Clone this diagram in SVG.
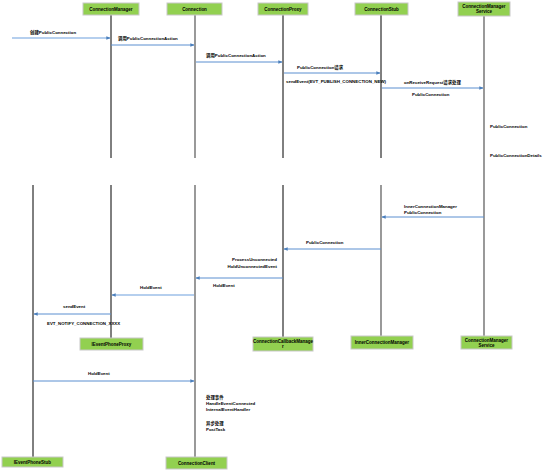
<svg xmlns="http://www.w3.org/2000/svg" width="553" height="474" viewBox="0 0 553 474">
<style>
.box{fill:#92d050;stroke:#c8c8c8;stroke-width:1}
.bt{font-family:"Liberation Sans",Arial,sans-serif;font-size:4.5px;font-weight:bold;fill:#000;text-anchor:middle}
.t{font-family:"Liberation Sans","Noto Sans CJK SC",sans-serif;font-size:4.4px;font-weight:bold;fill:#000}
.lk{stroke:#000;stroke-width:1;fill:none}
.lg{stroke:#808080;stroke-width:1.6;fill:none}
.ar{stroke:#5b8fd0;stroke-width:1;fill:none;marker-end:url(#ah)}
.arl{stroke:#9dbfe8;stroke-width:1.6;fill:none;marker-end:url(#ah)}
</style>
<defs>
<marker id="ah" viewBox="0 0 6 6" refX="5.5" refY="3" markerWidth="4" markerHeight="4" orient="auto" markerUnits="userSpaceOnUse">
<path d="M0,0.5 L6,3 L0,5.5 z" fill="#4a7ebb"/>
</marker>
</defs>
<rect width="553" height="474" fill="#fff"/>
<g id="lifelines">
<line class="lk" x1="111" y1="15" x2="111" y2="158"/>
<line class="lg" x1="195" y1="15" x2="195" y2="158"/>
<line class="lk" x1="283" y1="15" x2="283" y2="158"/>
<line class="lk" x1="381" y1="15" x2="381" y2="158"/>
<line class="lg" x1="484" y1="16" x2="484" y2="337"/>
<line class="lk" x1="33" y1="185" x2="33" y2="457"/>
<line class="lk" x1="111" y1="185" x2="111" y2="338"/>
<line class="lg" x1="195" y1="185" x2="195" y2="457"/>
<line class="lk" x1="283" y1="185" x2="283" y2="338"/>
<line class="lg" x1="381" y1="185" x2="381" y2="336"/>
</g>
<g id="n1"><rect class="box" x="83" y="3" width="56" height="12"/><text class="bt" x="111" y="10.7">ConnectionManager</text></g>
<g id="n2"><rect class="box" x="167" y="3" width="55" height="12"/><text class="bt" x="194.5" y="10.7">Connection</text></g>
<g id="n3"><rect class="box" x="258" y="3" width="50" height="12"/><text class="bt" x="283" y="10.7">ConnectionProxy</text></g>
<g id="n4"><rect class="box" x="355" y="3" width="53" height="12"/><text class="bt" x="381.5" y="10.7">ConnectionStub</text></g>
<g id="n5"><rect class="box" x="458" y="2" width="52" height="14"/><text class="bt" x="484" y="7.8">ConnectionManager</text><text class="bt" x="484" y="13.4">Service</text></g>
<g id="n6"><rect class="box" x="80" y="338" width="63" height="12"/><text class="bt" x="111.5" y="345.7">IEventPhoneProxy</text></g>
<g id="n7"><rect class="box" x="253" y="337" width="60" height="14"/><text class="bt" x="283" y="342.8">ConnectionCallbackManage</text><text class="bt" x="283" y="348.4">r</text></g>
<g id="n8"><rect class="box" x="351" y="336" width="62" height="13"/><text class="bt" x="382" y="344.2">InnerConnectionManager</text></g>
<g id="n9"><rect class="box" x="461" y="336" width="51" height="13"/><text class="bt" x="486.5" y="341.6">ConnectionManager</text><text class="bt" x="486.5" y="347.2">Service</text></g>
<g id="n10"><rect class="box" x="2" y="457" width="61" height="10"/><text class="bt" x="32.5" y="463.7">IEventPhoneStub</text></g>
<g id="n11"><rect class="box" x="166" y="457" width="61" height="12"/><text class="bt" x="196.5" y="464.7">ConnectionClient</text></g>
<g id="connectors">
<line class="arl" x1="12" y1="38" x2="110" y2="38"/>
<line class="ar" x1="111" y1="45" x2="194" y2="45"/>
<line class="ar" x1="196" y1="62" x2="282" y2="62"/>
<line class="ar" x1="284" y1="73" x2="380" y2="73"/>
<line class="ar" x1="382" y1="88" x2="483" y2="88"/>
<line class="ar" x1="484" y1="217" x2="382" y2="217"/>
<line class="ar" x1="381" y1="249" x2="284" y2="249"/>
<line class="ar" x1="283" y1="278" x2="196" y2="278"/>
<line class="arl" x1="194" y1="295" x2="112" y2="295"/>
<line class="ar" x1="111" y1="314" x2="34" y2="314"/>
<line class="ar" x1="33" y1="381" x2="194" y2="381"/>
</g>
<g id="labels">
<text class="t" x="30" y="34">创建PublicConnection</text>
<text class="t" x="118" y="40">调用PublicConnectionAction</text>
<text class="t" x="206" y="57">调用PublicConnectionAction</text>
<text class="t" x="297" y="69">PublicConnection请求</text>
<text class="t" x="286" y="83">sendEvent(EVT_PUBLISH_CONNECTION_NEW)</text>
<text class="t" x="404" y="84">onReceiveRequest请求处理</text>
<text class="t" x="412" y="96">PublicConnection</text>
<text class="t" x="490" y="128">PublicConnection</text>
<text class="t" x="490" y="157">PublicConnectionDetails</text>
<text class="t" x="404" y="208">InnerConnectionManager</text>
<text class="t" x="404" y="214">PublicConnection</text>
<text class="t" x="306" y="244">PublicConnection</text>
<text class="t" x="277" y="261" text-anchor="end">ProcessUnconnected</text>
<text class="t" x="277" y="268" text-anchor="end">HoldUnconnectedEvent</text>
<text class="t" x="213" y="287">HoldEvent</text>
<text class="t" x="140" y="289">HoldEvent</text>
<text class="t" x="63" y="308">sendEvent</text>
<text class="t" x="47" y="325">EVT_NOTIFY_CONNECTION_XXXX</text>
<text class="t" x="88" y="375">HoldEvent</text>
<text class="t" x="206" y="399">处理事件</text>
<text class="t" x="206" y="405">HandleEventConnected</text>
<text class="t" x="206" y="411">InternalEventHandler</text>
<text class="t" x="206" y="425">异步处理</text>
<text class="t" x="206" y="431">PostTask</text>
</g>
</svg>
